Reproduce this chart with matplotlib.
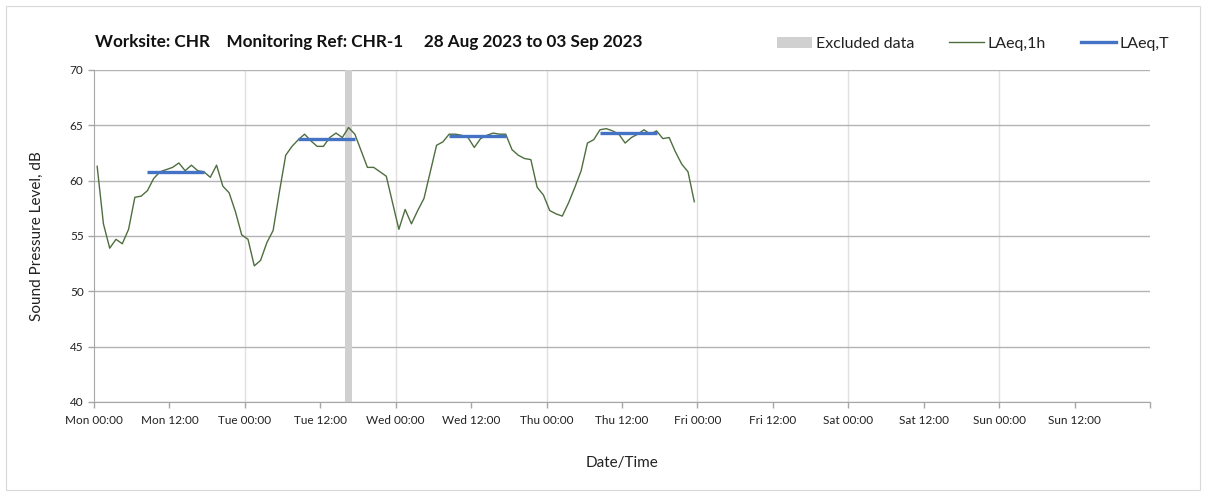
import numpy as np
import matplotlib.pyplot as plt
from matplotlib.patches import Patch, Rectangle
from matplotlib.lines import Line2D

plt.rcParams['font.family'] = ['Lato', 'DejaVu Sans']

# Data: hourly LAeq,1h values (hours from Mon 00:00, centred on each hour)
hours = np.arange(96) + 0.5
laeq_1h = [
    61.3, 56.1, 53.9, 54.7, 54.3, 55.6, 58.5, 58.6, 59.1, 60.2, 60.8, 61.0,
    61.2, 61.6, 60.9, 61.4, 60.9, 60.8, 60.3, 61.4, 59.5, 58.9, 57.2, 55.1,
    54.7, 52.3, 52.8, 54.4, 55.5, 59.0, 62.3, 63.1, 63.7, 64.2, 63.6, 63.1,
    63.1, 63.9, 64.3, 63.9, 64.8, 64.2, 62.7, 61.2, 61.2, 60.8, 60.4, 58.0,
    55.6, 57.4, 56.1, 57.3, 58.4, 60.8, 63.2, 63.5, 64.2, 64.2, 64.1, 63.9,
    63.0, 63.8, 64.1, 64.3, 64.2, 64.2, 62.8, 62.3, 62.0, 61.9, 59.4, 58.7,
    57.3, 57.0, 56.8, 58.0, 59.4, 60.9, 63.4, 63.7, 64.6, 64.7, 64.5, 64.2,
    63.4, 63.9, 64.2, 64.6, 64.2, 64.5, 63.8, 63.9, 62.6, 61.5, 60.8, 58.1,
]

# Daytime LAeq,T periods (first and last hour index of each period)
period_start = [8, 32, 56, 80]
period_end = [17, 41, 65, 89]
laeq_t = [60.8, 63.8, 64.05, 64.35]

# Excluded data period (hours)
excluded_start = 40
excluded_end = 41

days = ['Mon', 'Tue', 'Wed', 'Thu', 'Fri', 'Sat', 'Sun']
tick_hours = np.arange(0, 157, 12)
tick_labels = [f"{days[h // 24]} {h % 24:02d}:00" for h in tick_hours]

green = '#4f6e3f'
blue = '#4472c4'
grey = '#d0d0d0'

fig = plt.figure(figsize=(12.08, 4.96), dpi=100)
ax = fig.add_axes([94 / 1208, 1 - 402 / 496, (1150 - 94) / 1208, (402 - 70) / 496])

# outer chart border
fig.patches.append(Rectangle((6 / 1208, 6 / 496), 1194 / 1208, 484 / 496,
                             transform=fig.transFigure, fill=False,
                             edgecolor='#d9d9d9', linewidth=0.8))

ax.axvspan(excluded_start, excluded_end, color=grey, zorder=1, linewidth=0)
ax.plot(hours, laeq_1h, color=green, linewidth=1.0, zorder=3)
for s, e, v in zip(period_start, period_end, laeq_t):
    ax.plot([hours[s], hours[e]], [v, v], color=blue, linewidth=2.4,
            solid_capstyle='butt', zorder=4)

ax.set_xlim(0, 168)
ax.set_ylim(40, 70)
ax.set_yticks(np.arange(40, 71, 5))
ax.set_xticks(np.arange(0, 169, 12))
ax.set_xticklabels(tick_labels + [''])
for d in range(24, 168, 24):
    ax.axvline(d, color='#e0e0e0', linewidth=1.0, zorder=0)
ax.grid(axis='y', color='#b3b3b3', linewidth=1.0, zorder=0)
ax.set_axisbelow(True)

for side in ['top', 'right']:
    ax.spines[side].set_visible(False)
for side in ['left', 'bottom']:
    ax.spines[side].set_color('#a6a6a6')
ax.tick_params(axis='both', colors='#a6a6a6', labelcolor='#222222',
               labelsize=8.5, length=4, width=1.0)
ax.tick_params(axis='x', pad=5)

ax.set_ylabel('Sound Pressure Level, dB', fontsize=11, color='#222222', labelpad=19)
ax.set_xlabel('Date/Time', fontsize=11, color='#222222', labelpad=22)

fig.text(95 / 1208, 1 - 42 / 496,
         'Worksite: CHR    Monitoring Ref: CHR-1     28 Aug 2023 to 03 Sep 2023',
         fontsize=12.3, fontweight='bold', color='#111111', va='center', ha='left')

handles = [Patch(facecolor=grey, edgecolor='none'),
           Line2D([], [], color=green, linewidth=1.0),
           Line2D([], [], color=blue, linewidth=2.4)]
fig.legend(handles, ['Excluded data', 'LAeq,1h', 'LAeq,T'], ncol=3,
           loc='center', bbox_to_anchor=(973 / 1208, 1 - 44 / 496),
           frameon=False, fontsize=11.5, handlelength=2.2, handletextpad=0.2,
           columnspacing=2.2, labelcolor='#222222')

fig.savefig('out.png', dpi=100)
